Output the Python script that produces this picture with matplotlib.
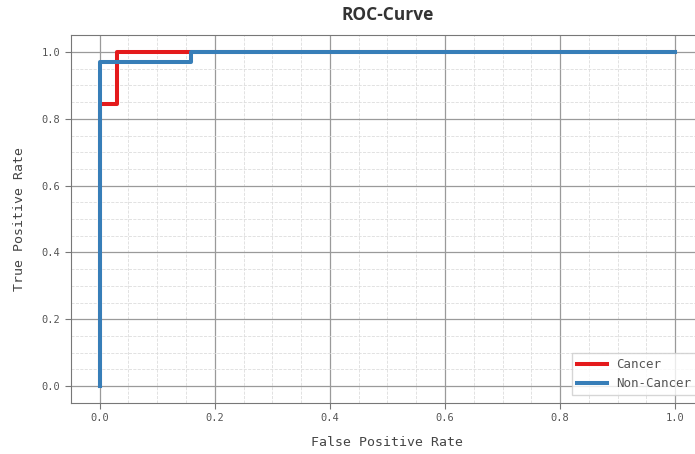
import numpy as np
import matplotlib
matplotlib.use("Agg")
import matplotlib.pyplot as plt
from matplotlib.ticker import MultipleLocator

# roc points
cancer_fpr = [0.0, 0.0, 0.03, 0.03, 1.0]
cancer_tpr = [0.0, 0.845, 0.845, 1.0, 1.0]
noncancer_fpr = [0.0, 0.0, 0.158, 0.158, 1.0]
noncancer_tpr = [0.0, 0.97, 0.97, 1.0, 1.0]
labels = ["Cancer", "Non-Cancer"]

mono = "DejaVu Sans Mono"

fig = plt.figure(figsize=(6.95, 4.54), dpi=100)
ax = fig.add_axes([0.102, 0.113, 0.911, 0.809])

ax.plot(cancer_fpr, cancer_tpr, color="#e41a1c", lw=2.9, label=labels[0])
ax.plot(noncancer_fpr, noncancer_tpr, color="#377eb8", lw=2.9, label=labels[1])

ax.set_xlim(-0.05, 1.05)
ax.set_ylim(-0.05, 1.05)
ax.xaxis.set_major_locator(MultipleLocator(0.2))
ax.yaxis.set_major_locator(MultipleLocator(0.2))
ax.xaxis.set_minor_locator(MultipleLocator(0.05))
ax.yaxis.set_minor_locator(MultipleLocator(0.05))
ax.grid(which="major", color="#9a9a9a", lw=0.9)
ax.grid(which="minor", color="#dddddd", lw=0.6, ls="--")
ax.set_axisbelow(True)

for s in ax.spines.values():
    s.set_color("#777777")
ax.tick_params(which="major", length=4, color="#777777", labelsize=7.5, labelcolor="#555555")
ax.tick_params(which="minor", length=0)
for t in ax.get_xticklabels() + ax.get_yticklabels():
    t.set_family(mono)

ax.set_xlabel("False Positive Rate", family=mono, fontsize=9.5, color="#444444", labelpad=9)
ax.set_ylabel("True Positive Rate", family=mono, fontsize=9.5, color="#444444", labelpad=11)
ax.set_title("ROC-Curve", family="Open Sans", fontweight="bold", fontsize=12.5, color="#333333", pad=11)

leg = ax.legend(loc="lower right", prop={"family": mono, "size": 9}, frameon=True,
                fancybox=False, edgecolor="#cccccc", handlelength=2.4, borderaxespad=0.6)
for t in leg.get_texts():
    t.set_color("#555555")

fig.savefig("out.png", dpi=100)
